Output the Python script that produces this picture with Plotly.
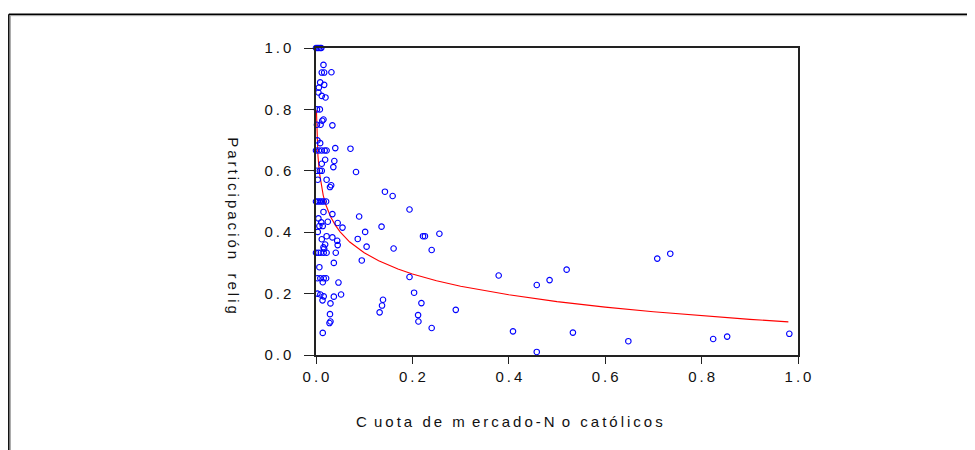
import plotly.graph_objects as go

# ---- data ----
cuota_no_catolicos = [
    0.000, 0.003, 0.006, 0.009, 0.011,
    0.0155, 0.012, 0.017, 0.032, 0.0087, 0.017, 0.006, 0.005, 0.012, 0.0197,
    0.002, 0.008, 0.0155, 0.013, 0.002, 0.0095, 0.034,
    0.003, 0.0087, 0.000, 0.006, 0.012, 0.018, 0.022, 0.040, 0.0715,
    0.019, 0.038, 0.012, 0.036, 0.002, 0.008, 0.012, 0.083, 0.0037, 0.022, 0.0315, 0.029,
    0.000, 0.004, 0.008, 0.012, 0.016, 0.021,
    0.0155, 0.034, 0.0895, 0.005, 0.0245, 0.011, 0.045, 0.007, 0.014, 0.055, 0.102, 0.0037,
    0.022, 0.034, 0.012, 0.044, 0.0866, 0.019, 0.045, 0.105, 0.0155, 0.017,
    0.000, 0.005, 0.010, 0.016, 0.022, 0.041, 0.095, 0.037, 0.007,
    0.003, 0.009, 0.016, 0.021, 0.014, 0.0466,
    0.003, 0.009, 0.052, 0.037, 0.016, 0.0135, 0.030, 0.029, 0.030, 0.028, 0.014,
    0.143, 0.159, 0.194, 0.136, 0.222, 0.226, 0.256, 0.161, 0.240,
    0.194, 0.2035, 0.2187, 0.139, 0.137, 0.132, 0.2118, 0.2125, 0.290, 0.240,
    0.379, 0.4087, 0.458, 0.4846, 0.520, 0.533, 0.458,
    0.708, 0.735, 0.648, 0.824, 0.853, 0.982,
]
participacion_religiosa = [
    1.000, 1.000, 1.000, 1.000, 1.000,
    0.945, 0.920, 0.920, 0.921, 0.888, 0.880, 0.871, 0.855, 0.844, 0.839,
    0.800, 0.800, 0.767, 0.763, 0.750, 0.750, 0.748,
    0.699, 0.690, 0.666, 0.666, 0.666, 0.666, 0.666, 0.674, 0.672,
    0.636, 0.632, 0.623, 0.612, 0.600, 0.600, 0.600, 0.596, 0.571, 0.571, 0.553, 0.547,
    0.500, 0.500, 0.500, 0.500, 0.500, 0.500,
    0.466, 0.459, 0.451, 0.445, 0.434, 0.432, 0.430, 0.420, 0.420, 0.415, 0.401, 0.401,
    0.387, 0.383, 0.377, 0.372, 0.378, 0.360, 0.358, 0.353, 0.351, 0.346,
    0.333, 0.333, 0.333, 0.333, 0.333, 0.333, 0.308, 0.300, 0.286,
    0.250, 0.250, 0.250, 0.250, 0.237, 0.236,
    0.200, 0.197, 0.197, 0.190, 0.191, 0.178, 0.168, 0.133, 0.109, 0.104, 0.072,
    0.532, 0.518, 0.474, 0.418, 0.387, 0.387, 0.395, 0.347, 0.342,
    0.254, 0.203, 0.169, 0.180, 0.161, 0.139, 0.130, 0.109, 0.147, 0.088,
    0.259, 0.077, 0.228, 0.244, 0.278, 0.073, 0.010,
    0.314, 0.330, 0.045, 0.052, 0.060, 0.069,
]

# fitted curve, points
curva_x = [0.0009, 0.002, 0.004, 0.007, 0.01, 0.015, 0.02, 0.03, 0.04, 0.05, 0.07,
           0.1, 0.13, 0.17, 0.2, 0.25, 0.3, 0.4, 0.5, 0.6, 0.7, 0.8, 0.9, 0.98]
curva_y = [0.797, 0.718, 0.650, 0.595, 0.560, 0.520, 0.491, 0.451, 0.423, 0.401, 0.368,
           0.333, 0.307, 0.280, 0.264, 0.242, 0.224, 0.196, 0.174, 0.156, 0.141, 0.128, 0.116, 0.108]

tick_values = [0.0, 0.2, 0.4, 0.6, 0.8, 1.0]
tick_labels = ["0.0", "0.2", "0.4", "0.6", "0.8", "1.0"]
x_title = "Cuota de mercado-No católicos"
y_title = "Participación relig"

THIN = "\u2009"
NB = "\u00a0"


def spaced(s, gap=THIN, wide_after="", word_gap=NB + NB):
    out = []
    for i, ch in enumerate(s):
        out.append(word_gap if ch == " " else ch)
        if i < len(s) - 1:
            out.append(gap + (NB if ch in wide_after else ""))
    return "".join(out)


FONT = "Liberation Sans, Arial, Helvetica, sans-serif"

fig = go.Figure()
fig.add_trace(go.Scatter(
    x=curva_x, y=curva_y, mode="lines",
    line=dict(color="#ff0000", width=1.1),
    cliponaxis=False, showlegend=False, hoverinfo="skip",
))
fig.add_trace(go.Scatter(
    x=cuota_no_catolicos, y=participacion_religiosa, mode="markers",
    marker=dict(symbol="circle-open", size=5.5, color="#0000ff",
                line=dict(color="#0000ff", width=1.1)),
    cliponaxis=False, showlegend=False,
))

axis_common = dict(
    range=[0, 1], tickvals=tick_values, ticktext=[spaced(t) for t in tick_labels],
    showgrid=False, zeroline=False, showline=True, mirror=True,
    linecolor="#222222", linewidth=1.5, ticks="outside", tickcolor="#222222",
    tickwidth=1.2, tickfont=dict(family=FONT, size=15, color="#111111"),
)

# the page body adds an 8px offset, so the figure is 8px smaller on each axis
fig.update_layout(
    width=967, height=442,
    margin=dict(l=307.5, r=177, t=39.5, b=94.5, pad=0),
    paper_bgcolor="white", plot_bgcolor="white",
    xaxis=dict(**axis_common, ticklen=7),
    yaxis=dict(**axis_common, ticklen=10, ticklabelstandoff=10),
    showlegend=False,
    annotations=[
        dict(text=spaced(x_title, wide_after="CmN", word_gap=NB), x=0.401, y=-0.2156,
             xref="paper", yref="paper",
             xanchor="center", yanchor="middle", showarrow=False,
             font=dict(family=FONT, size=15, color="#111111")),
        dict(text=spaced(y_title), x=-0.171, y=0.4208, xref="paper", yref="paper",
             xanchor="center", yanchor="middle", showarrow=False, textangle=90,
             font=dict(family=FONT, size=15, color="#111111")),
    ],
    shapes=[
        # outer frame (top + left edges visible), with grey inner shadow
        dict(type="line", xref="paper", yref="paper",
             x0=-0.6373, x1=1.45, y0=1.1102, y1=1.1102,
             line=dict(color="#000000", width=1.5)),
        dict(type="line", xref="paper", yref="paper",
             x0=-0.6352, x1=1.45, y0=1.1054, y1=1.1054,
             line=dict(color="#9a9a9a", width=1)),
        dict(type="line", xref="paper", yref="paper",
             x0=-0.6373, x1=-0.6373, y0=1.1102, y1=-0.40,
             line=dict(color="#000000", width=1.5)),
        dict(type="line", xref="paper", yref="paper",
             x0=-0.6342, x1=-0.6342, y0=1.1054, y1=-0.40,
             line=dict(color="#9a9a9a", width=1)),
    ],
)

fig.write_html("out.html")
